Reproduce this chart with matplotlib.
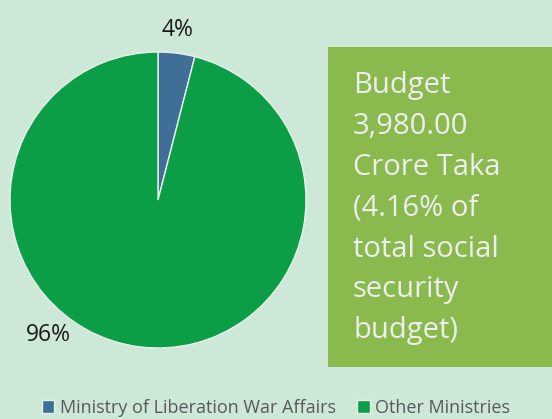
import matplotlib
matplotlib.use("Agg")
import matplotlib.pyplot as plt
from matplotlib.patches import Rectangle

categories = ["Ministry of Liberation War Affairs", "Other Ministries"]
values = [4, 96]
labels = ["4%", "96%"]
colors = ["#3f6e97", "#0c9e47"]
box_text = "Budget\n3,980.00\nCrore Taka\n(4.16% of\ntotal social\nsecurity\nbudget)"

W, H = 552, 419
fig = plt.figure(figsize=(W / 100, H / 100), dpi=100)
fig.patch.set_facecolor("#cde8d7")
plt.rcParams['font.family'] = ['Open Sans', 'DejaVu Sans']

ax = fig.add_axes([10 / W, 71 / H, 296 / W, 296 / H])
wedges, _ = ax.pie(values, colors=colors, startangle=90, counterclock=False,
                   radius=1, wedgeprops=dict(edgecolor="#e8f2ea", linewidth=1))
ax.set_xlim(-1, 1)
ax.set_ylim(-1, 1)
ax.set_aspect("equal")
ax.axis("off")

label_pos = [(0.128, 1.149), (-0.743, -0.912)]
for (x, y), t in zip(label_pos, labels):
    ax.text(x, y, t, ha="center", va="center", fontsize=16.5, color="#1a1a1a")

fig.patches.append(Rectangle((328 / W, (H - 367) / H), (W - 328) / W, 320 / H,
                             transform=fig.transFigure, facecolor="#8aba4e",
                             edgecolor="none", zorder=0))
fig.text(353 / W, (H - 71) / H, box_text, ha="left", va="top", fontsize=21,
         color="#eeeeee", linespacing=1.54)

leg = fig.legend(wedges, categories, loc="center", bbox_to_anchor=(0.5, (H - 408) / H),
                 ncol=2, frameon=False, fontsize=13, handlelength=0.7, handleheight=0.7,
                 handletextpad=0.3, columnspacing=1.2, labelcolor="#595959")

fig.savefig("out.png", dpi=100, facecolor=fig.get_facecolor())
